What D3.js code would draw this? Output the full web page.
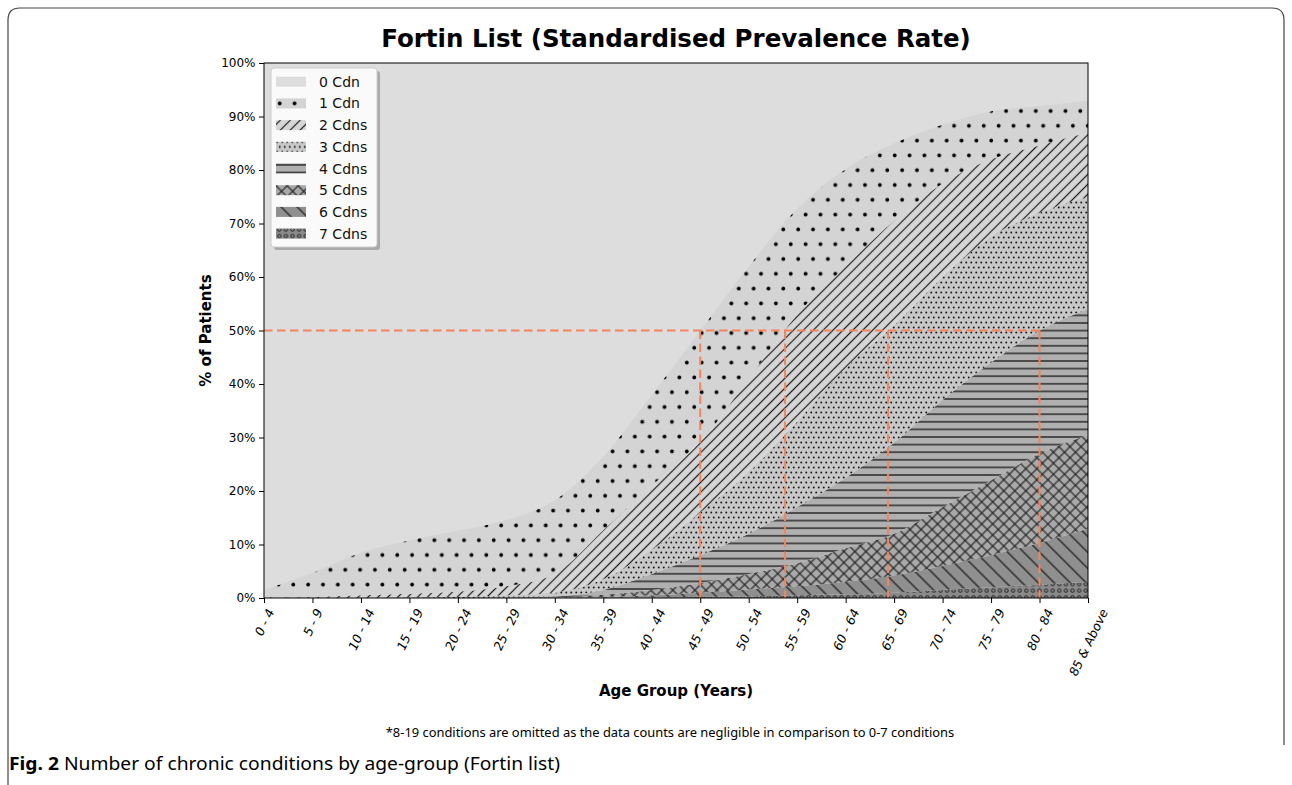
<!DOCTYPE html>
<html>
<head>
<meta charset="utf-8">
<script src="https://cdnjs.cloudflare.com/ajax/libs/d3/7.8.5/d3.min.js"></script>
<style>
  body { margin: 0; background: #fff; }
  text { font-family: "DejaVu Sans", sans-serif; }
</style>
</head>
<body>
<svg id="chart" width="1292" height="785"></svg>
<script>
const ageGroups = ['0 - 4', '5 - 9', '10 - 14', '15 - 19', '20 - 24', '25 - 29', '30 - 34', '35 - 39', '40 - 44',
  '45 - 49', '50 - 54', '55 - 59', '60 - 64', '65 - 69', '70 - 74', '75 - 79', '80 - 84', '85 & Above'];

// % of patients per number of chronic conditions
const cdn0 = [98.5, 95.3, 91.5, 89.2, 87.4, 85.4, 81.7, 73.5, 62.0, 50.0, 38.0, 27.2, 19.8, 15.0, 11.5, 9.0, 8.0, 7.0];
const cdn1 = [1.5, 4.5, 8.0, 10.0, 11.4, 12.4, 13.8, 13.8, 17.0, 20.8, 21.0, 19.8, 18.2, 14.5, 11.0, 9.0, 7.4, 6.0];
const cdn2 = [0, 0.2, 0.5, 0.7, 1.0, 1.7, 3.5, 9.2, 12.0, 13.2, 17.5, 20.0, 19.0, 19.5, 17.5, 14.5, 12.6, 12.0];
const cdn3 = [0, 0, 0, 0.1, 0.2, 0.4, 0.7, 2.0, 4.5, 8.0, 11.5, 16.0, 20.5, 22.0, 23.0, 23.5, 22.0, 21.0];
const cdn4 = [0, 0, 0, 0, 0, 0.1, 0.2, 0.9, 3.0, 5.2, 7.5, 10.5, 13.2, 17.0, 20.0, 22.0, 23.0, 23.5];
const cdn5 = [0, 0, 0, 0, 0, 0, 0.05, 0.4, 1.0, 1.8, 2.9, 4.3, 6.3, 7.8, 11.0, 14.0, 16.7, 17.5];
const cdn6 = [0, 0, 0, 0, 0, 0, 0.05, 0.15, 0.4, 0.8, 1.3, 1.7, 2.3, 3.2, 4.5, 6.0, 7.8, 10.0];
const cdn7 = [0, 0, 0, 0, 0, 0, 0, 0.05, 0.1, 0.2, 0.3, 0.5, 0.7, 1.0, 1.5, 2.0, 2.5, 3.0];

const seriesValues = [cdn0, cdn1, cdn2, cdn3, cdn4, cdn5, cdn6, cdn7];
const legendLabels = ['0 Cdn', '1 Cdn', '2 Cdns', '3 Cdns', '4 Cdns', '5 Cdns', '6 Cdns', '7 Cdns'];
const yTicks = [0, 10, 20, 30, 40, 50, 60, 70, 80, 90, 100];

const title = 'Fortin List (Standardised Prevalence Rate)';
const note = '*8-19 conditions are omitted as the data counts are negligible in comparison to 0-7 conditions';

const plot = { left: 264, right: 1088, top: 63, bottom: 598 };
const svg = d3.select('#chart');
const defs = svg.append('defs');

// background colours of each layer
const fills = ['#dddddd', '#d4d4d4', '#d6d6d6', '#c8c8c8', '#b0b0b0', '#a9a9a9', '#8f8f8f', '#8a8a8a'];

// hatch patterns, one builder per layer
function makePattern(id, k, ox, oy) {
  const bg = fills[k];
  const p = defs.append('pattern').attr('id', id).attr('patternUnits', 'userSpaceOnUse');
  let w = 10, h = 10, tr = null;
  if (k === 1) { w = 14.85; h = 29.6; }
  else if (k === 2) { w = 7; h = 7; tr = 'rotate(45)'; }
  else if (k === 3) { w = 5; h = 10; }
  else if (k === 4) { w = 10; h = 7.6; }
  else if (k === 5) { w = 7.8; h = 7.8; tr = 'rotate(45)'; }
  else if (k === 6) { w = 11.3; h = 11.3; tr = 'rotate(-45)'; }
  else if (k === 7) { w = 6.6; h = 6.6; }
  p.attr('width', w).attr('height', h).attr('x', ox).attr('y', oy);
  if (tr) p.attr('patternTransform', tr);
  p.append('rect').attr('width', w).attr('height', h).attr('fill', bg);
  if (k === 1) {
    p.append('circle').attr('cx', 3.7).attr('cy', 7.4).attr('r', 1.9).attr('fill', '#000');
    p.append('circle').attr('cx', 11.12).attr('cy', 22.2).attr('r', 1.9).attr('fill', '#000');
  } else if (k === 2 || k === 6) {
    p.append('line').attr('x1', w / 2).attr('x2', w / 2).attr('y1', -1).attr('y2', h + 1)
      .attr('stroke', '#1a1a1a').attr('stroke-width', 1.2);
  } else if (k === 3) {
    p.append('circle').attr('cx', 1.25).attr('cy', 2.5).attr('r', 1.0).attr('fill', '#1a1a1a');
    p.append('circle').attr('cx', 3.75).attr('cy', 7.5).attr('r', 1.0).attr('fill', '#1a1a1a');
  } else if (k === 4) {
    p.append('line').attr('x1', -1).attr('x2', w + 1).attr('y1', h / 2).attr('y2', h / 2)
      .attr('stroke', '#222').attr('stroke-width', 1.4);
  } else if (k === 5) {
    p.append('line').attr('x1', w / 2).attr('x2', w / 2).attr('y1', -1).attr('y2', h + 1)
      .attr('stroke', '#1a1a1a').attr('stroke-width', 1.1);
    p.append('line').attr('x1', -1).attr('x2', w + 1).attr('y1', h / 2).attr('y2', h / 2)
      .attr('stroke', '#1a1a1a').attr('stroke-width', 1.1);
  } else if (k === 7) {
    p.append('circle').attr('cx', w / 2).attr('cy', h / 2).attr('r', 1.7)
      .attr('fill', 'none').attr('stroke', '#111').attr('stroke-width', 0.9);
  }
}
seriesValues.forEach((_, k) => makePattern('pat' + k, k, 0, 0));

// stacked data, 7 Cdns at the bottom, 0 Cdn on top
const keys = ['c7', 'c6', 'c5', 'c4', 'c3', 'c2', 'c1', 'c0'];
const rows = ageGroups.map((g, i) => {
  const r = { group: g };
  seriesValues.forEach((vals, k) => { r['c' + k] = vals[i]; });
  return r;
});
const stacked = d3.stack().keys(keys)(rows);

const x = d3.scalePoint().domain(ageGroups).range([plot.left, plot.right]).padding(0);
const y = d3.scaleLinear().domain([0, 100]).range([plot.bottom, plot.top]);

svg.append('clipPath').attr('id', 'clip').append('rect')
  .attr('x', plot.left).attr('y', plot.top)
  .attr('width', plot.right - plot.left).attr('height', plot.bottom - plot.top);

const chart = svg.append('g').attr('clip-path', 'url(#clip)');
chart.append('rect')
  .attr('x', plot.left).attr('y', plot.top)
  .attr('width', plot.right - plot.left).attr('height', plot.bottom - plot.top)
  .attr('fill', fills[0]);

const area = d3.area()
  .x(d => x(d.data.group))
  .y0(d => y(d[0]))
  .y1(d => y(d[1]))
  .curve(d3.curveMonotoneX);

stacked.forEach(layer => {
  const k = +layer.key.slice(1);
  chart.append('path')
    .datum(k === 0 ? layer.map(d => Object.assign([d[0], 100], { data: d.data })) : layer)
    .attr('fill', `url(#pat${k})`)
    .attr('d', area);
});

// where each cumulative share (>=1, >=2, >=3, >=4 conditions) crosses 50%
function crossing(minK) {
  const cum = ageGroups.map((_, i) => d3.sum(seriesValues.slice(minK), s => s[i]));
  for (let i = 1; i < cum.length; i++) {
    if (cum[i] >= 50 - 1e-6) {
      return i - 1 + (50 - cum[i - 1]) / (cum[i] - cum[i - 1]);
    }
  }
  return cum.length - 1;
}
const crossX = [1, 2, 3, 4].map(k => plot.left + crossing(k) * x.step());
const orange = '#f4845c';
const dash = '8.5,4.5';
svg.append('line')
  .attr('x1', plot.left).attr('x2', d3.max(crossX))
  .attr('y1', y(50)).attr('y2', y(50))
  .attr('stroke', orange).attr('stroke-width', 2).attr('stroke-dasharray', dash);
crossX.forEach(cx => {
  svg.append('line')
    .attr('x1', cx).attr('x2', cx)
    .attr('y1', y(50)).attr('y2', y(0))
    .attr('stroke', orange).attr('stroke-width', 2).attr('stroke-dasharray', dash);
});

// axes
const yAxis = svg.append('g')
  .attr('transform', `translate(${plot.left},0)`)
  .call(d3.axisLeft(y).tickValues(yTicks).tickFormat(d => d + '%').tickSize(5).tickPadding(3.5));
yAxis.select('.domain').remove();
yAxis.selectAll('text').attr('font-size', 12).attr('fill', '#000').style('font-family', '"DejaVu Sans", sans-serif');
yAxis.selectAll('line').attr('stroke', '#000');

const xAxis = svg.append('g')
  .attr('transform', `translate(0,${plot.bottom})`)
  .call(d3.axisBottom(x).tickSize(5));
xAxis.select('.domain').remove();
xAxis.selectAll('line').attr('stroke', '#000');
const ang = 64;
xAxis.selectAll('text')
  .attr('font-size', 12.5).attr('fill', '#000')
  .style('font-family', '"DejaVu Sans", sans-serif')
  .each(function () {
    const L = this.getComputedTextLength();
    const a = ang * Math.PI / 180;
    const h = L * Math.sin(a) + 12 * Math.cos(a);
    d3.select(this)
      .attr('text-anchor', 'middle')
      .attr('y', 0).attr('dy', '0.35em')
      .attr('transform', `translate(0,${9 + h / 2}) rotate(${-ang}) skewX(-8)`);
  });

svg.append('rect')
  .attr('x', plot.left).attr('y', plot.top)
  .attr('width', plot.right - plot.left).attr('height', plot.bottom - plot.top)
  .attr('fill', 'none').attr('stroke', '#000').attr('stroke-width', 1);

// legend
const legend = svg.append('g').attr('transform', 'translate(271,68)');
legend.append('rect')
  .attr('x', 3).attr('y', 3).attr('width', 106).attr('height', 179).attr('rx', 3)
  .attr('fill', '#808080').attr('opacity', 0.55);
legend.append('rect')
  .attr('width', 106).attr('height', 179).attr('rx', 3)
  .attr('fill', '#fafafa').attr('stroke', '#cccccc');
legendLabels.forEach((label, k) => {
  const rowY = 13.7 + k * 21.7;
  makePattern('lpat' + k, k, 5, rowY - 7.4);
  legend.append('rect')
    .attr('x', 5).attr('y', rowY - 5).attr('width', 30).attr('height', 10)
    .attr('fill', `url(#lpat${k})`);
  legend.append('text')
    .attr('x', 48).attr('y', rowY).attr('dy', '0.36em')
    .attr('font-size', 14).attr('fill', '#111')
    .text(label);
});

// titles
svg.append('text')
  .attr('x', (plot.left + plot.right) / 2).attr('y', 47)
  .attr('text-anchor', 'middle').attr('font-size', 24.5).attr('font-weight', 'bold')
  .text(title);
svg.append('text')
  .attr('transform', `translate(211,${(plot.top + plot.bottom) / 2}) rotate(-90)`)
  .attr('text-anchor', 'middle').attr('font-size', 15).attr('font-weight', 'bold')
  .text('% of Patients');
svg.append('text')
  .attr('x', (plot.left + plot.right) / 2).attr('y', 696)
  .attr('text-anchor', 'middle').attr('font-size', 15).attr('font-weight', 'bold')
  .text('Age Group (Years)');
svg.append('text')
  .attr('x', 670).attr('y', 737)
  .attr('text-anchor', 'middle').attr('font-size', 12.9)
  .style('font-family', '"Noto Sans", sans-serif')
  .text(note);

const cap = svg.append('text').attr('x', 9).attr('y', 770).attr('font-size', 18.5)
  .style('font-family', '"Noto Sans", sans-serif')
  .attr('textLength', 551).attr('lengthAdjust', 'spacingAndGlyphs');
cap.append('tspan').attr('font-weight', 'bold').text('Fig. 2');
cap.append('tspan').text(' Number of chronic conditions by age-group (Fortin list)');

// page frame
svg.append('path')
  .attr('d', 'M8,785 V20 Q8,8 20,8 H1272 Q1284,8 1284,20 V745')
  .attr('fill', 'none').attr('stroke', '#444').attr('stroke-width', 1.2);
</script>
</body>
</html>
